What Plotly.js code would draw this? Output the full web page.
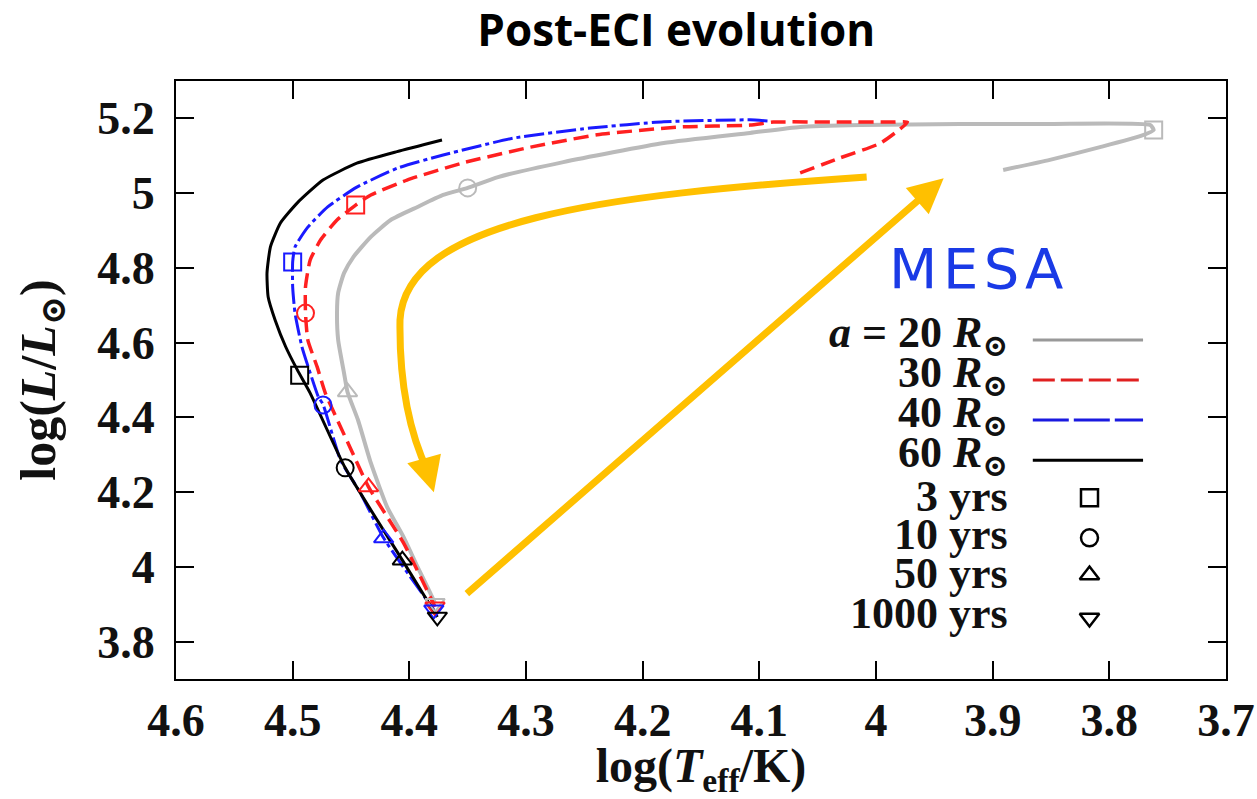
<!DOCTYPE html>
<html>
<head>
<meta charset="utf-8">
<script src="https://cdn.plot.ly/plotly-3.0.1.min.js"></script>
<style>html,body{margin:0;padding:0;background:#fff;}#chart{width:1257px;height:799px;}</style>
</head>
<body>
<div id="chart"></div>
<script>
// ---------- data (log Teff, log L) ----------
const teff20 = [3.891, 3.851, 3.808, 3.773, 3.762, 3.765, 3.851, 3.928, 4.013, 4.065, 4.108, 4.182, 4.268, 4.324, 4.350, 4.371, 4.393, 4.416, 4.433, 4.448, 4.456, 4.461, 4.462, 4.461, 4.456, 4.453, 4.444, 4.433, 4.419, 4.405, 4.393, 4.382, 4.378];
const lum20  = [5.062, 5.089, 5.123, 5.153, 5.169, 5.182, 5.185, 5.185, 5.182, 5.177, 5.161, 5.134, 5.083, 5.043, 5.014, 4.995, 4.963, 4.928, 4.883, 4.829, 4.786, 4.733, 4.679, 4.607, 4.519, 4.468, 4.393, 4.278, 4.160, 4.080, 4.000, 3.930, 3.903];

const teff30 = [4.065, 4.031, 3.996, 3.973, 3.988, 4.031, 4.088, 4.108, 4.168, 4.239, 4.296, 4.354, 4.402, 4.433, 4.446, 4.462, 4.476, 4.485, 4.489, 4.489, 4.487, 4.479, 4.472, 4.451, 4.435, 4.405, 4.378];
const lum30  = [5.054, 5.094, 5.134, 5.190, 5.190, 5.190, 5.190, 5.182, 5.177, 5.156, 5.123, 5.081, 5.035, 4.995, 4.968, 4.928, 4.875, 4.821, 4.749, 4.679, 4.607, 4.535, 4.465, 4.321, 4.214, 4.064, 3.893];

const teff40 = [4.093, 4.108, 4.182, 4.245, 4.311, 4.371, 4.410, 4.445, 4.470, 4.487, 4.498, 4.500, 4.500, 4.498, 4.492, 4.485, 4.478, 4.474, 4.459, 4.442, 4.422, 4.379];
const lum40  = [5.193, 5.196, 5.191, 5.174, 5.147, 5.102, 5.067, 5.016, 4.963, 4.909, 4.856, 4.816, 4.749, 4.679, 4.588, 4.519, 4.455, 4.435, 4.286, 4.198, 4.077, 3.885];

const teff60 = [4.372, 4.4105, 4.445, 4.474, 4.496, 4.5105, 4.519, 4.522, 4.521, 4.515, 4.506, 4.496, 4.485, 4.455, 4.406, 4.376];
const lum60  = [5.142, 5.111, 5.080, 5.035, 4.974, 4.920, 4.857, 4.786, 4.722, 4.660, 4.589, 4.527, 4.465, 4.265, 4.018, 3.866];

// age markers: [3 yrs, 10 yrs, 50 yrs, 1000 yrs]
const markTeff20 = [3.762, 4.350, 4.453, 4.378];
const markLum20  = [5.169, 5.014, 4.468, 3.903];
const markTeff30 = [4.446, 4.489, 4.435, 4.378];
const markLum30  = [4.968, 4.679, 4.214, 3.893];
const markTeff40 = [4.500, 4.474, 4.422, 4.379];
const markLum40  = [4.816, 4.433, 4.077, 3.885];
const markTeff60 = [4.494, 4.455, 4.406, 4.376];
const markLum60  = [4.513, 4.265, 4.018, 3.866];

const seriesLabels = ['<i>a</i> = 20 <i>R</i><sub>⊙</sub>', '30 <i>R</i><sub>⊙</sub>', '40 <i>R</i><sub>⊙</sub>', '60 <i>R</i><sub>⊙</sub>'];
const ageLabels = ['3 yrs', '10 yrs', '50 yrs', '1000 yrs'];
const xTicks = [4.6, 4.5, 4.4, 4.3, 4.2, 4.1, 4.0, 3.9, 3.8, 3.7];
const yTicks = [3.8, 4.0, 4.2, 4.4, 4.6, 4.8, 5.0, 5.2];

// ---------- styles ----------
const SERIF = '"Liberation Serif", "DejaVu Serif", serif';
const styles = [
  {color: '#bababa', keyColor: '#999999', width: 4, dash: 'solid', keyDash: 'solid'},
  {color: '#ff2020', keyColor: '#e02020', width: 3.5, dash: '15px,7px', keyDash: '22px,6px'},
  {color: '#1a1aff', keyColor: '#1a1ae0', width: 3, dash: '20px,4px,4px,4px', keyDash: '36px,5px'},
  {color: '#000000', keyColor: '#000000', width: 3, dash: 'solid', keyDash: 'solid'}
];
const symbols = ['square-open', 'circle-open', 'triangle-up-open', 'triangle-down-open'];
const ORANGE = '#FFC000';

const tracks = [[teff20, lum20], [teff30, lum30], [teff40, lum40], [teff60, lum60]];
const marks = [[markTeff20, markLum20], [markTeff30, markLum30], [markTeff40, markLum40], [markTeff60, markLum60]];

const traces = [];
tracks.forEach((t, i) => {
  traces.push({
    x: t[0], y: t[1], type: 'scatter', mode: 'lines', showlegend: false, hoverinfo: 'skip',
    line: {color: styles[i].color, width: styles[i].width, dash: styles[i].dash, shape: 'spline', smoothing: 0.5}
  });
});
marks.forEach((m, i) => {
  traces.push({
    x: m[0], y: m[1], type: 'scatter', mode: 'markers', showlegend: false, hoverinfo: 'skip',
    marker: {symbol: symbols, size: 17, color: styles[i].color, line: {color: styles[i].color, width: 2}}
  });
});

// ---------- hand-made legend (text left, key right) ----------
const LEG = {textX: 0.794, keyX0: 0.816, keyX1: 0.921, markX: 0.870,
             rowY: [0.567, 0.500, 0.433, 0.366, 0.303, 0.236, 0.174, 0.102],
             textY: [0.575, 0.508, 0.441, 0.374, 0.306, 0.241, 0.176, 0.109]};
styles.forEach((s, i) => {
  traces.push({
    x: [LEG.keyX0, LEG.keyX1], y: [LEG.rowY[i], LEG.rowY[i]], xaxis: 'x2', yaxis: 'y2',
    type: 'scatter', mode: 'lines', showlegend: false, hoverinfo: 'skip',
    line: {color: s.keyColor, width: 3, dash: s.keyDash}
  });
});
symbols.forEach((sym, i) => {
  traces.push({
    x: [LEG.markX], y: [LEG.rowY[4 + i]], xaxis: 'x2', yaxis: 'y2',
    type: 'scatter', mode: 'markers', showlegend: false, hoverinfo: 'skip',
    marker: {symbol: sym, size: 17, color: '#000', line: {color: '#000', width: 2.5}}
  });
});

const annotations = [];
seriesLabels.concat(ageLabels).forEach((txt, i) => {
  annotations.push({
    xref: 'paper', yref: 'paper', x: LEG.textX, y: LEG.textY[i], xanchor: 'right', yanchor: 'middle',
    text: txt, showarrow: false, font: {family: SERIF, size: 44, color: '#111', weight: 'bold'}
  });
});
annotations.push({
  xref: 'paper', yref: 'paper', x: 0.762, y: 0.687, xanchor: 'center', yanchor: 'middle',
  text: 'M\u200AE\u200AS\u200AA', showarrow: false,
  font: {family: '"DejaVu Sans", sans-serif', size: 56, color: '#1a3ae6'}
});

// orange arrows
const ARROWS = {
  curvePath: 'M 4.008,5.043 C 4.236,4.995 4.403,4.928 4.408,4.661 C 4.409,4.446 4.395,4.326 4.384,4.254',
  curveHead: {tip: [4.379, 4.200], tail: [4.384, 4.254]},
  straight: {tip: [3.942, 5.040], tail: [4.352, 3.925]}
};
[ARROWS.curveHead, ARROWS.straight].forEach(a => {
  annotations.push({
    x: a.tip[0], y: a.tip[1], ax: a.tail[0], ay: a.tail[1], xref: 'x', yref: 'y', axref: 'x', ayref: 'y',
    text: '', showarrow: true, arrowhead: 2, arrowsize: 1, arrowwidth: 7, arrowcolor: ORANGE, standoff: 0
  });
});

const axisCommon = {
  showline: true, linecolor: '#000', linewidth: 2, mirror: 'ticks',
  ticks: 'inside', ticklen: 18, tickwidth: 2, tickcolor: '#000',
  showgrid: false, zeroline: false,
  tickfont: {family: SERIF, size: 46, color: '#111', weight: 'bold'}
};

const layout = {
  width: 1257, height: 799,
  margin: {l: 176, r: 31, t: 81, b: 120},
  paper_bgcolor: '#fff', plot_bgcolor: '#fff',
  title: {text: '<b>Post-ECI evolution</b>', x: 0.538, xanchor: 'center', y: 0.962, yanchor: 'middle',
          font: {family: '"Open Sans", sans-serif', size: 44, color: '#000'}},
  xaxis: Object.assign({}, axisCommon, {
    range: [4.6, 3.7], tickvals: xTicks, ticktext: xTicks.map(v => String(v)),
    ticklabelstandoff: 0,
    title: {text: 'log(<i>T</i><sub>eff</sub>/K)', standoff: 9, font: {family: SERIF, size: 48, color: '#111', weight: 'bold'}}
  }),
  yaxis: Object.assign({}, axisCommon, {
    range: [3.7, 5.3], tickvals: yTicks, ticktext: yTicks.map(v => String(v)),
    ticklabelstandoff: 10,
    title: {text: 'log(<i>L</i>/<i>L</i><sub>⊙</sub>)', standoff: 26, font: {family: SERIF, size: 50, color: '#111', weight: 'bold'}}
  }),
  xaxis2: {overlaying: 'x', anchor: 'y2', range: [0, 1], visible: false, fixedrange: true},
  yaxis2: {overlaying: 'y', anchor: 'x2', range: [0, 1], visible: false, fixedrange: true},
  shapes: [{type: 'path', xref: 'x', yref: 'y', path: ARROWS.curvePath, line: {color: ORANGE, width: 7}}],
  annotations: annotations,
  showlegend: false
};

Plotly.newPlot('chart', traces, layout, {displayModeBar: false, staticPlot: true});
</script>
</body>
</html>
